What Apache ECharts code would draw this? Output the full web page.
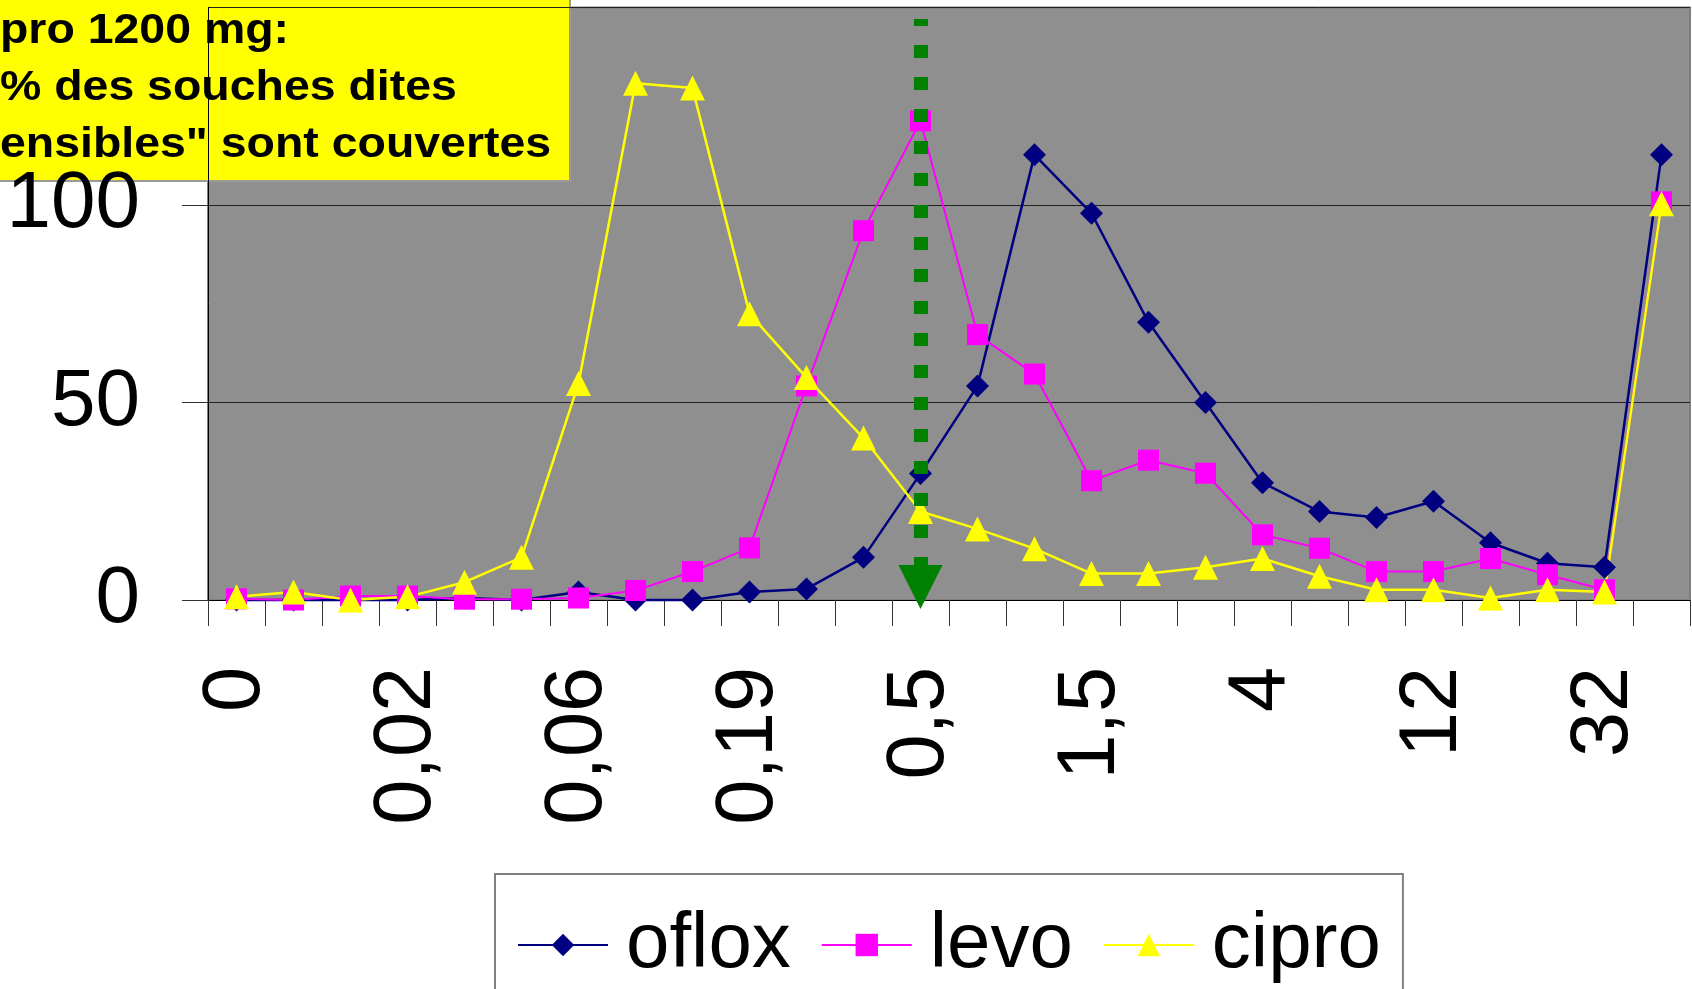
<!DOCTYPE html>
<html>
<head>
<meta charset="utf-8">
<script src="https://cdn.jsdelivr.net/npm/echarts@6/dist/echarts.min.js"></script>
<style>
html, body { margin: 0; padding: 0; background: #fff; }
#main { width: 1692px; height: 989px; }
</style>
</head>
<body>
<div id="main"></div>
<script>
// CMI (mg/l), une graduation sur trois est affichée
let categories = ['0', '0,012', '0,016', '0,02', '0,03', '0,047', '0,06', '0,09', '0,125',
    '0,19', '0,25', '0,38', '0,5', '0,75', '1', '1,5', '2', '3', '4', '6', '8',
    '12', '16', '24', '32', '>32'];

// nombre de souches par CMI
let oflox = [0, 0, 0, 0, 0.5, 0, 2, 0, 0, 2, 2.8, 10.8, 32, 54.2, 112.7, 97.9, 70.3,
    50, 29.7, 22.4, 20.9, 25, 14.5, 9.3, 8.3, 112.7];
let levo = [0.3, 0, 1, 1, 0.2, 0.2, 0.5, 2.4, 7.2, 13.2, 54.2, 93.5, 121.3, 67.2, 57.2,
    30.2, 35.4, 32.1, 16.5, 13.1, 7.2, 7.2, 10.5, 6.4, 2.6, 100.8];
let cipro = [0.8, 2, 0, 0.8, 4.5, 10.8, 54.8, 130.8, 129.6, 72.5, 56.3, 41, 22.4, 18, 13,
    6.7, 6.7, 8.3, 10.5, 6, 2.6, 2.6, 0.5, 2.6, 2, 100.3];

// flèche verte : seuil de cipro 1200 mg
let breakpoint = '0,5';
let arrowTop = 147.1;
let arrowEnd = 3.3;

let boxLines = ['pro 1200 mg:', '% des souches dites', 'ensibles" sont couvertes'];

let fontFamily = 'Liberation Sans';

function make_series(name, data, color, symbol, size, width) {
    return {
        name: name,
        type: 'line',
        data: data,
        symbol: symbol,
        symbolSize: size,
        showAllSymbol: true,
        clip: false,
        itemStyle: { color: color },
        lineStyle: { color: color, width: width },
        emphasis: { disabled: true }
    };
}

function draw_chart() {
    let chartDom = document.getElementById('main');
    let myChart = echarts.init(chartDom);

    let s_oflox = make_series('oflox', oflox, '#000080', 'diamond', 23, 2.5);
    let s_levo = make_series('levo', levo, '#ff00ff', 'rect', 21, 2);
    let s_cipro = make_series('cipro', cipro, '#ffff00', 'triangle', 25, 2.5);

    s_cipro.markLine = {
        silent: true,
        animation: false,
        symbol: ['none', 'triangle'],
        symbolSize: 44,
        label: { show: false },
        emphasis: { disabled: true },
        lineStyle: { color: '#008000', width: 14, type: [13, 19], dashOffset: 6, opacity: 1 },
        itemStyle: { color: '#008000' },
        data: [[{ coord: [breakpoint, arrowTop] }, { coord: [breakpoint, arrowEnd] }]]
    };

    // encadré jaune en haut à gauche (texte un peu étiré comme l'original)
    let boxText = boxLines.map(function (t, i) {
        return {
            type: 'text',
            x: 0,
            y: 31 + i * 57,
            scaleX: 1.08,
            style: {
                text: t,
                font: 'bold 43px ' + fontFamily,
                fill: '#000',
                verticalAlign: 'middle',
                align: 'left'
            }
        };
    });

    let option = {
        animation: false,
        backgroundColor: '#fff',
        grid: {
            left: 208, right: 2, top: 7.5, bottom: 389,
            show: true,
            backgroundColor: '#8f8f8f',
            borderColor: '#808080',
            borderWidth: 2
        },
        legend: {
            left: 495,
            top: 874,
            padding: [32, 22, 60, 22],
            itemGap: 30,
            itemWidth: 90,
            itemHeight: 28,
            backgroundColor: '#fff',
            borderColor: '#808080',
            borderWidth: 2,
            textStyle: { fontSize: 78, fontFamily: fontFamily, color: '#000', padding: [0, 0, 0, 13] },
            data: ['oflox', 'levo', 'cipro']
        },
        xAxis: {
            type: 'category',
            data: categories,
            axisLine: { lineStyle: { color: '#000', width: 1 } },
            axisTick: { show: true, interval: 0, length: 26, lineStyle: { color: '#333' } },
            axisLabel: {
                interval: 2,
                rotate: 90,
                margin: 67,
                fontSize: 81,
                fontFamily: fontFamily,
                color: '#000'
            }
        },
        yAxis: {
            type: 'value',
            min: 0,
            max: 150,
            interval: 50,
            axisLine: { show: true, lineStyle: { color: '#000', width: 1 } },
            axisTick: { show: true, length: 26, lineStyle: { color: '#333' } },
            axisLabel: {
                margin: 68,
                fontSize: 80,
                fontFamily: fontFamily,
                color: '#000',
                showMaxLabel: false,
                padding: [9, 0, 0, 0]
            },
            splitLine: { show: true, lineStyle: { color: '#222', width: 1 } }
        },
        graphic: [{
            type: 'group',
            z: 100,
            children: [{
                type: 'rect',
                shape: { x: -2, y: -2, width: 572, height: 183 },
                style: { fill: '#ffff00', stroke: '#9a9a9a', lineWidth: 2 }
            }].concat(boxText)
        }],
        series: [s_oflox, s_levo, s_cipro]
    };

    myChart.setOption(option);
}

draw_chart();
</script>
</body>
</html>
